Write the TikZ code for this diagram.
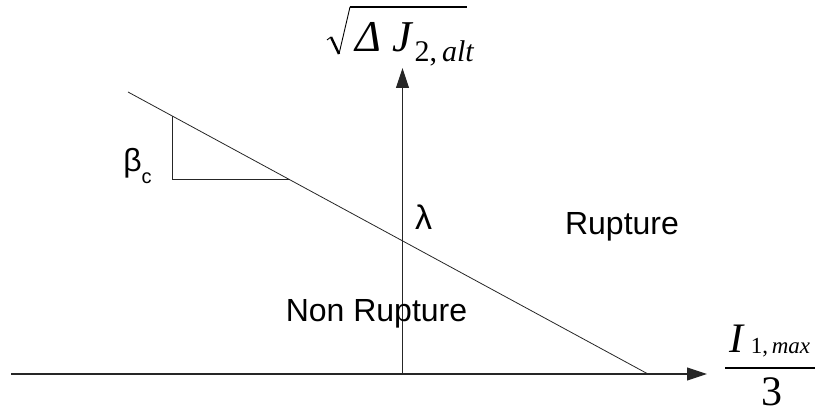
\documentclass[tikz,border=0pt]{standalone}
\usepackage{fontspec}
\setmainfont{Liberation Sans}
\newfontfamily\lser{Liberation Serif}
\usetikzlibrary{arrows.meta}
\begin{document}
\begin{tikzpicture}[x=1pt,y=-1pt,
  axis/.style={line width=1.1pt,draw=black!85,-{Triangle[length=20pt,width=13pt]}},
  thin line/.style={line width=0.8pt,draw=black!85},
  sanslabel/.style={font=\fontsize{32}{36}\selectfont,inner sep=0pt,anchor=base},
  mathlabel/.style={inner sep=0pt,anchor=base}]
\useasboundingbox (0,0) rectangle (815,414);
% axes
\coordinate (xs) at (11,374);
\coordinate (xe) at (707,374);
\coordinate (O) at (402.5,374);
\coordinate (ye) at (402.5,68);
\draw[axis] (xs) -- (xe);
\draw[axis] (O) -- (ye);
% criterion line
\coordinate (L1) at (128,92);
\coordinate (L2) at (648,374);
\draw[thin line] (L1) -- (L2);
% slope triangle
\coordinate (T1) at (172,115.9);
\coordinate (T2) at (172,179);
\coordinate (T3) at (290,179);
\draw[thin line] (T1) -- (T2) -- (T3);
% labels
\node[sanslabel] (rup) at (622,235) {Rupture};
\node[sanslabel] (nonrup) at (376.5,322) {Non Rupture};
\node[sanslabel,font=\fontsize{34}{38}\selectfont] (lam) at (423.5,230) {λ};
\node[sanslabel] (beta) at (137.5,172) {β\raisebox{-12pt}{\fontsize{20}{22}\selectfont c}};
% y-axis label: radical sign and its content
\node[inner sep=0pt,anchor=base west] (ylab) at (355,52) {\lser\fontsize{44}{50}\selectfont\itshape Δ J\kern3pt\raisebox{-10pt}{\fontsize{30}{32}\selectfont\upshape 2,\,\itshape alt}};
\coordinate (r0) at (327,40);
\coordinate (r1) at (331,37);
\coordinate (r2) at (339,54);
\coordinate (r3) at (350,7);
\coordinate (r4) at (467,7);
\draw[line width=0.9pt,line join=miter] (r0) -- (r1);
\draw[line width=2.4pt] (r1) -- (r2);
\draw[line width=0.9pt] (r2) -- (r3);
\draw[line width=1.8pt] ([xshift=-0.4pt]r3) -- (r4);
% x-axis label
\node[mathlabel] (num) at (770,353) {\lser\fontsize{42}{46}\selectfont\itshape I\,\raisebox{-1pt}{\fontsize{23}{25}\selectfont\upshape 1,\,\itshape max}};
\node[mathlabel] (den) at (772,406) {\lser\fontsize{42}{46}\selectfont 3};
\coordinate (b1) at (725,368);
\coordinate (b2) at (815,368);
\draw[line width=1.6pt] (b1) -- (b2);
\end{tikzpicture}
\end{document}
